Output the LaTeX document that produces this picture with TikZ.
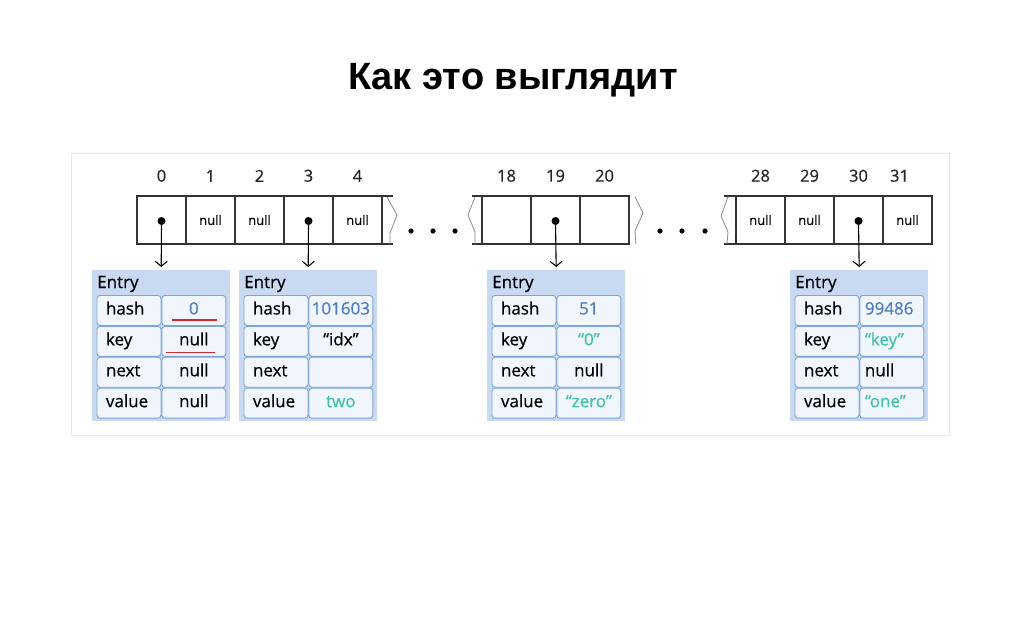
\documentclass[tikz,border=0pt]{standalone}
\usepackage{fontspec}
\setmainfont{Open Sans}[FakeBold=0.5]
\newfontfamily\titlefont{Liberation Sans}
\usetikzlibrary{positioning, arrows.meta, calc}
\usepackage{xcolor}

\definecolor{entrybg}{HTML}{C7DAF1}
\definecolor{cellline}{HTML}{7EA3D8}
\definecolor{cellfill}{HTML}{F1F6FD}
\definecolor{hashblue}{HTML}{4C7EC6}
\definecolor{strteal}{HTML}{3EC2A8}
\definecolor{markred}{HTML}{D62828}
\definecolor{panelline}{HTML}{E8E8E8}
\definecolor{arrline}{HTML}{333333}

\newcommand{\hv}[1]{\textcolor{hashblue}{#1}}
\newcommand{\sv}[1]{\textcolor{strteal}{#1}}

% one Entry object: name, left x, value style, hash, key, next, value
\newcommand{\drawentry}[7]{%
  \node[entrybox] (#1) at (#2,270) {};
  \node[entryhead] (#1-t) at (#2+5,288) {Entry};
  \node[keycell] (#1-k1) at (#2+4.5,295) {hash};
  \node[keycell, below=0pt of #1-k1] (#1-k2) {key};
  \node[keycell, below=0pt of #1-k2] (#1-k3) {next};
  \node[keycell, below=0pt of #1-k3] (#1-k4) {value};
  \node[valcell, #3, right=0pt of #1-k1] (#1-v1) {#4};
  \node[valcell, #3, right=0pt of #1-k2] (#1-v2) {#5};
  \node[valcell, #3, right=0pt of #1-k3] (#1-v3) {#6};
  \node[valcell, #3, right=0pt of #1-k4] (#1-v4) {#7};
}

\begin{document}
\begin{tikzpicture}[
    x=1pt, y=-1pt,
    % Define styles for the nodes
    slot/.style={rectangle, draw=arrline, line width=1.1pt, outer sep=0pt,
      minimum width=49pt, minimum height=48pt, inner sep=0pt,
      font=\fontsize{13}{15}\selectfont},
    idx/.style={font=\fontsize{16.5}{18}\selectfont, inner sep=0pt, yshift=14pt, text=black!85},
    dot/.style={circle, fill=black, minimum size=8pt, inner sep=0pt},
    ptr/.style={-{Straight Barb[length=5pt, width=12pt]}, line width=1.1pt, shorten >=3pt},
    brk/.style={draw=black!45, line width=0.8pt},
    entrybox/.style={rectangle, fill=entrybg, minimum width=138pt, minimum height=151pt,
      anchor=north west, inner sep=0pt},
    entryhead/.style={anchor=base west, inner sep=0pt, font=\fontsize{17}{19}\selectfont},
    keycell/.style={rectangle, rounded corners=3pt, draw=cellline, fill=cellfill, line width=0.9pt,
      minimum width=64pt, minimum height=30pt, text width=46pt, align=left, inner xsep=9pt,
      text height=12pt, text depth=4pt, anchor=north west, font=\fontsize{17}{19}\selectfont},
    valcell/.style={rectangle, rounded corners=3pt, draw=cellline, fill=cellfill, line width=0.9pt,
      minimum width=64pt, minimum height=30pt, inner xsep=1pt,
      text height=12pt, text depth=4pt, font=\fontsize{17}{19}\selectfont},
    vleft/.style={text width=54pt, align=left, inner xsep=5pt},
    vmid/.style={}
  ]
  \fill[white] (0,0) rectangle (1024,638);
  \useasboundingbox (0,0) rectangle (1024,638);

  % --- Title ---
  \node[font=\titlefont\bfseries\fontsize{38}{42}\selectfont] (title) at (513,80) {Как это выглядит};

  % --- Panel ---
  \draw[panelline, fill=white, line width=1pt] (71,153) rectangle (949,435);

  % --- Array slots ---
  \node[slot, label={[idx]above:0}] (c0) at (161.5,220) {};
  \node[slot, right=0pt of c0, label={[idx]above:1}] (c1) {null};
  \node[slot, right=0pt of c1, label={[idx]above:2}] (c2) {null};
  \node[slot, right=0pt of c2, label={[idx]above:3}] (c3) {};
  \node[slot, right=0pt of c3, label={[idx]above:4}] (c4) {null};

  \node[slot, label={[idx]above:18}] (c18) at (506.5,220) {};
  \node[slot, right=0pt of c18, label={[idx]above:19}] (c19) {};
  \node[slot, right=0pt of c19, label={[idx]above:20}] (c20) {};

  \node[slot, label={[idx]above:28}] (c28) at (760.5,220) {null};
  \node[slot, right=0pt of c28, label={[idx]above:29}] (c29) {null};
  \node[slot, right=0pt of c29, label={[idx]above:30}] (c30) {};
  \node[slot, right=0pt of c30, label={[idx, xshift=-8pt]above:31}] (c31) {null};

  % thick borders and open ends
  \draw[arrline, line width=2pt] (c4.north east) -- (c4.south east);
  \draw[arrline, line width=2pt] (c28.north west) -- (c28.south west);
  \draw[arrline, line width=2pt] (c30.north east) -- (c30.south east);
  \draw[arrline, line width=1.1pt] (c4.north east) -- ++(11,0) (c4.south east) -- ++(11,0);
  \draw[arrline, line width=1.1pt] (c18.north west) -- ++(-10,0) (c18.south west) -- ++(-10,0);
  \draw[arrline, line width=1.1pt] (c28.north west) -- ++(-12,0) (c28.south west) -- ++(-12,0);

  % break marks
  \draw[brk] (387,197) -- (397,215) -- (390,233) -- (390,244);
  \draw[brk] (475,197) -- (468,215) -- (475,232) -- (475,244);
  \draw[brk] (635,197) -- (643,213) -- (635,231) -- (636,244);
  \draw[brk] (728,197) -- (721,216) -- (728,232) -- (727,244);

  % ellipses
  \foreach \x in {411,433,455,660,682,705}
    \fill (\x,231) circle (2.6);

  % pointers
  \node[dot] (p0) at ($(c0)+(0,1)$) {};
  \node[dot] (p3) at ($(c3)+(0,1)$) {};
  \node[dot] (p19) at ($(c19)+(0,1)$) {};
  \node[dot] (p30) at ($(c30)+(0,1)$) {};

  % --- Entries ---
  \drawentry{e0}{92}{vmid}{\hv{0}}{null}{null}{null}
  \drawentry{e3}{239}{vmid}{\hv{101603}}{“idx”}{}{\sv{two}}
  \drawentry{e19}{487}{vmid}{\hv{51}}{\sv{“0”}}{null}{\sv{“zero”}}
  \drawentry{e30}{790}{vleft}{\hv{99486}}{\sv{“key”}}{null}{\sv{“one”}}

  % crossed-out marks
  \draw[markred, line width=1.2pt] ($(e0-v1.south)+(-22,-6)$) -- ++(45,0);
  \draw[markred, line width=1.2pt] ($(e0-v2.south)+(-28,-4.5)$) -- ++(49,0);

  % --- Edges ---
  \draw[ptr] (p0.center) -- (e0.north);
  \draw[ptr] (p3.center) -- (e3.north);
  \draw[ptr] (p19.center) -- (e19.north);
  \draw[ptr] (p30.center) -- (e30.north);
\end{tikzpicture}
\end{document}
